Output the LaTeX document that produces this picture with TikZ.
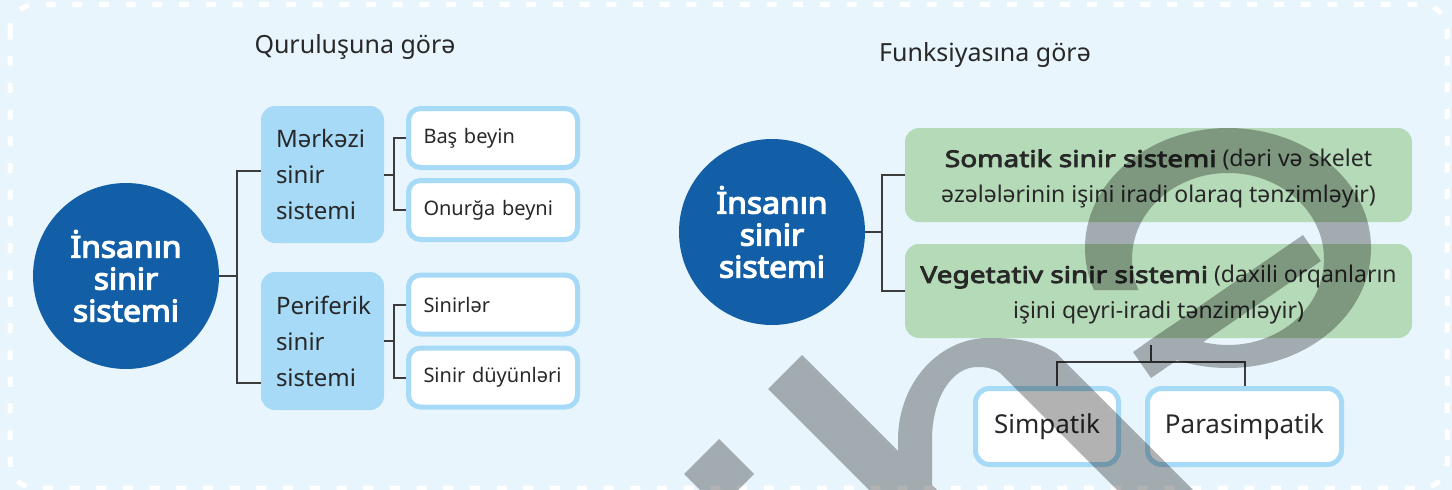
\documentclass[tikz,border=0pt]{standalone}
\usepackage{fontspec}
\setmainfont{Noto Sans}[AutoFakeBold=3]
\newfontfamily\hubfont{Noto Sans}[FakeBold=4, FakeStretch=1.06]
\newfontfamily\gboldfont{Noto Sans}[FakeBold=3.5, FakeStretch=1.22]
\usetikzlibrary{calc}
\definecolor{bg}{RGB}{232,245,253}
\definecolor{hubblue}{RGB}{18,95,168}
\definecolor{midblue}{RGB}{166,218,247}
\definecolor{greenc}{RGB}{181,218,184}
\definecolor{linec}{RGB}{60,60,60}
\definecolor{txt}{RGB}{40,40,40}
\begin{document}
\begin{tikzpicture}[x=1pt,y=-1pt,
  conn/.style={draw=linec, line width=2pt},
  hub/.style={circle, fill=hubblue, minimum size=186pt, inner sep=0pt, text=white, align=center, font=\hubfont\fontsize{30pt}{32pt}\selectfont},
  midbox/.style={rectangle, rounded corners=14pt, fill=midblue, minimum height=137pt, text width=93pt, inner xsep=15pt, inner ysep=0pt, align=left, text=txt, font=\fontsize{24pt}{36pt}\selectfont},
  leaf/.style={rectangle, rounded corners=12pt, fill=white, draw=midblue, line width=5pt, minimum height=59pt, text width=139pt, inner xsep=15pt, inner ysep=0pt, align=left, text=txt, font=\fontsize{20pt}{24pt}\selectfont},
  greenbox/.style={rectangle, rounded corners=14pt, fill=greenc, minimum width=507pt, minimum height=94pt, inner sep=0pt},
  gtext/.style={align=center, text=txt, inner sep=0pt, font=\fontsize{23pt}{36pt}\selectfont},
  subbox/.style={rectangle, rounded corners=14pt, fill=white, draw=midblue, line width=5pt, minimum height=76pt, inner sep=0pt, text=txt, font=\fontsize{26pt}{30pt}\selectfont},
  headline/.style={anchor=base, inner sep=0pt, text=txt, font=\fontsize{25pt}{30pt}\selectfont},
]
\useasboundingbox (0,0) rectangle (1452,490);
\fill[bg] (0,0) rectangle (1452,490);
\draw[white, line width=5pt, dash pattern=on 10pt off 16.7pt, rounded corners=25pt] (10,4.5) rectangle (1447,488);

% titles
\node[headline] (t1) at (355,53) {Quruluşuna görə};
\node[headline] (t2) at (985,61) {Funksiyasına görə};

% left tree
\node[hub] (c1) at (126,276) {İnsanın\\sinir\\sistemi};
\node[midbox] (m1) at (322.5,174.5) {Mərkəzi\\sinir\\sistemi};
\node[midbox, minimum height=138pt] (m2) at (322.5,341) {Periferik\\sinir\\sistemi};
\node[leaf] (l1) at (493,138) {Baş beyin};
\node[leaf] (l2) at (493,210) {Onurğa beyni};
\node[leaf] (l3) at (493,304.5) {Sinirlər};
\node[leaf] (l4) at (493,377.5) {Sinir düyünləri};

\coordinate (j1) at (237,276);
\coordinate (j2) at (394,174.5);
\coordinate (j3) at (394,341);
\draw[conn] (c1.east) -- (j1);
\draw[conn] ([yshift=4pt]m1.west) -| (j1) |- ([yshift=-42pt]m2.west);
\draw[conn] (m1.east) -- (j2);
\draw[conn] (l1.west) -| (j2) |- (l2.west);
\draw[conn] (m2.east) -- (j3);
\draw[conn] (l3.west) -| (j3) |- (l4.west);

% right tree
\node[hub] (c2) at (772,232) {İnsanın\\sinir\\sistemi};
\node[greenbox] (g1) at (1158.5,175) {};
\node[greenbox] (g2) at (1158.5,291) {};
\node[gtext] (g1t) at (1158.5,179) {{\gboldfont Somatik sinir sistemi} (dəri və skelet\\əzələlərinin işini iradi olaraq tənzimləyir)};
\node[gtext] (g2t) at (1158.5,295) {{\gboldfont Vegetativ sinir sistemi} (daxili orqanların\\işini qeyri-iradi tənzimləyir)};
\node[subbox, minimum width=143pt] (s1) at (1047,426.5) {Simpatik};
\node[subbox, minimum width=194pt] (s2) at (1244.5,426.5) {Parasimpatik};

\coordinate (j4) at (882,232);
\coordinate (j5) at (1150.5,362);
\draw[conn] (c2.east) -- (j4);
\draw[conn] (g1.west) -| (j4) |- (g2.west);
\draw[conn] (j5) -- ++(0,-17);
\draw[conn] ([xshift=10pt]s1.north) |- (j5) -| (s2.north);

% watermark
\begin{scope}[transparency group, opacity=0.3]
  \fill[black] (719,439) -- (754,474) -- (719,509) -- (684,474) -- cycle;
  \fill[black] (768,389) -- (802,355) -- (947,500) -- (879,500) -- cycle;
  \fill[black] (898,497) -- (898,440) .. controls (898,382) and (940,338) .. (988,338)
     .. controls (1018,338) and (1036,341) .. (1056,353) -- (1200,497) -- (1124,497) -- (1000,373)
     .. controls (993,368) and (986,367) .. (977,367) .. controls (952,367) and (932,398) .. (932,440)
     -- (932,497) -- cycle;
  \begin{scope}
    \clip (1000,100) -- (1420,100) -- (1420,500) -- (1000,500) -- (1000,442) -- (1224,290) -- (1000,290) -- cycle;
    \fill[black, even odd rule] (1228,248) ellipse [x radius=143, y radius=120] (1228,259) ellipse [x radius=96, y radius=86];
  \end{scope}
  \fill[black] (1133,352) -- (1303,235) -- (1321,261) -- (1151,378) -- cycle;
\end{scope}
\end{tikzpicture}
\end{document}
